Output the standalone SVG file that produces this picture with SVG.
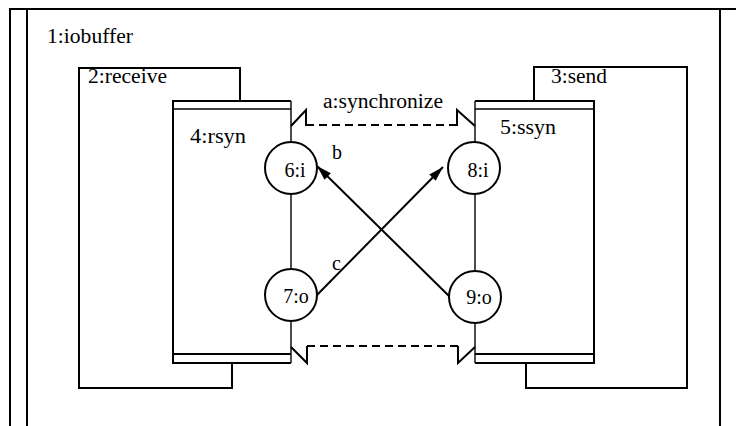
<svg xmlns="http://www.w3.org/2000/svg" width="736" height="426" viewBox="0 0 736 426">
  <defs>
    <style>
      .edge { fill: none; stroke: #000; stroke-width: 2; }
      .thin { fill: none; stroke: #000; stroke-width: 1.4; }
      .port { fill: #fff; stroke: #000; stroke-width: 2; }
      .lbl { font-family: "Liberation Serif", "Times New Roman", serif; font-size: 20px; fill: #000; }
      .mid { text-anchor: middle; }
      .dash { fill: none; stroke: #000; stroke-width: 2; stroke-dasharray: 8 5; }
      .arrow { fill: none; stroke: #000; stroke-width: 2; marker-end: url(#head); }
    </style>
    <marker id="head" markerUnits="userSpaceOnUse" markerWidth="16" markerHeight="10" refX="15" refY="5" orient="auto">
      <path d="M0,0.5 L15,5 L0,9.5 z" fill="#000"/>
    </marker>
  </defs>
  <rect width="736" height="426" fill="#fff"/>

  <!-- outer capsule 1:iobuffer -->
  <g id="iobuffer">
    <path class="edge" d="M10,426 V9 H736" stroke-width="2.4"/>
    <path class="edge" d="M27,426 V9"/>
    <path class="edge" d="M720,9 V426"/>
    <text class="lbl" x="47" y="43" textLength="86" lengthAdjust="spacingAndGlyphs">1:iobuffer</text>
  </g>

  <!-- 2:receive -->
  <g id="receive">
    <path class="edge" d="M240,101 V68 H79 V388 H232 V363"/>
    <text class="lbl" x="88" y="83" textLength="79" lengthAdjust="spacingAndGlyphs">2:receive</text>
  </g>

  <!-- 3:send -->
  <g id="send">
    <path class="edge" d="M534,101 V67 H687 V388 H526 V363"/>
    <text class="lbl" x="551" y="83" textLength="56" lengthAdjust="spacingAndGlyphs">3:send</text>
  </g>

  <!-- 4:rsyn -->
  <g id="rsyn">
    <path class="edge" d="M291,101 H173 V363 H291"/>
    <path class="thin" d="M291,101 V363"/>
    <path class="thin" d="M173,109 H291"/>
    <path class="edge" d="M173,354 H291"/>
    <text class="lbl" x="190" y="143" textLength="56" lengthAdjust="spacingAndGlyphs">4:rsyn</text>
  </g>

  <!-- 5:ssyn -->
  <g id="ssyn">
    <path class="edge" d="M475,101 H594 V363 H475"/>
    <path class="thin" d="M475,101 V363"/>
    <path class="thin" d="M475,109 H594"/>
    <path class="edge" d="M475,354 H594"/>
    <text class="lbl" x="500" y="134" textLength="56" lengthAdjust="spacingAndGlyphs">5:ssyn</text>
  </g>

  <!-- connectors -->
  <g id="connectors">
    <!-- a:synchronize binding (top) -->
    <polyline class="edge" points="291,126 306,110 306,126"/>
    <path class="dash" d="M306,125 H457"/>
    <polyline class="edge" points="457,126 457,110 475,126"/>
    <text class="lbl" x="323" y="108" textLength="120" lengthAdjust="spacingAndGlyphs">a:synchronize</text>
    <!-- binding (bottom) -->
    <polyline class="edge" points="291,347 307,363 307,346"/>
    <path class="dash" d="M307,346 H458"/>
    <polyline class="edge" points="458,346 458,363 475,347"/>
    <!-- b: 9:o to 6:i -->
    <path class="arrow" d="M449,296 L317,166"/>
    <text class="lbl" x="332" y="159">b</text>
    <!-- c: 7:o to 8:i -->
    <path class="arrow" d="M317,295 L443,167"/>
    <text class="lbl" x="332" y="270">c</text>
  </g>

  <!-- ports -->
  <g id="p6">
    <circle class="port" cx="291" cy="168" r="26"/>
    <text class="lbl mid" x="295" y="177">6:i</text>
  </g>
  <g id="p7">
    <circle class="port" cx="291" cy="295" r="26"/>
    <text class="lbl mid" x="296" y="303">7:o</text>
  </g>
  <g id="p8">
    <circle class="port" cx="474" cy="168" r="26"/>
    <text class="lbl mid" x="478" y="177">8:i</text>
  </g>
  <g id="p9">
    <circle class="port" cx="475" cy="297" r="26"/>
    <text class="lbl mid" x="479" y="304">9:o</text>
  </g>
</svg>
